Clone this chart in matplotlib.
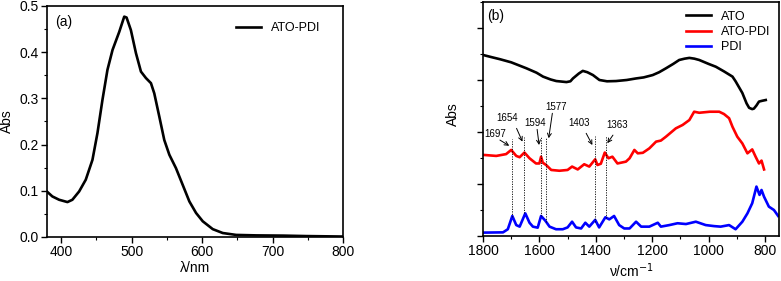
import matplotlib
matplotlib.use("Agg")
import matplotlib.pyplot as plt
from matplotlib.ticker import MultipleLocator

plt.rcParams['font.family'] = ['Liberation Sans', 'DejaVu Sans']

# ---- Panel (a): UV-vis of ATO-PDI ----
uv_wl = [378.2, 387.6, 397.2, 409, 416, 425.6, 435, 444.5, 451.6, 458.7, 465.8,
         473, 482.5, 489.6, 492.9, 499, 506.2, 513.3, 520.4, 527.5, 532.2,
         539.3, 546.4, 553.6, 563, 572.5, 582, 591.5, 601, 615.2, 629.4, 648.4,
         676.8, 715, 748, 800]
uv_abs = [0.1007, 0.0878, 0.0806, 0.0756, 0.0806, 0.0986, 0.124, 0.167, 0.225,
          0.297, 0.362, 0.405, 0.444, 0.477, 0.475, 0.448, 0.398, 0.358, 0.344,
          0.333, 0.311, 0.261, 0.21, 0.178, 0.149, 0.113, 0.077, 0.052, 0.034,
          0.017, 0.0086, 0.0045, 0.0035, 0.003, 0.002, 0.001]

# ---- Panel (b): IR spectra (arbitrary offset units) ----
ato_wn = [1799, 1770, 1740, 1700, 1646, 1610, 1587, 1560, 1540, 1504, 1490, 1481,
          1460, 1446, 1430, 1410, 1387, 1360, 1328, 1290, 1257, 1230, 1198,
          1175, 1151, 1125, 1104, 1085, 1068, 1050, 1033, 1000, 974, 945, 915,
          904, 880, 865, 856, 845, 839, 830, 821, 810, 797]
ato_abs = [6.96, 6.88, 6.8, 6.68, 6.45, 6.28, 6.13, 6.02, 5.96, 5.92, 5.95, 6.06,
           6.25, 6.35, 6.3, 6.19, 6.0, 5.95, 5.96, 6.0, 6.06, 6.1, 6.19, 6.3,
           6.45, 6.62, 6.77, 6.82, 6.85, 6.82, 6.77, 6.62, 6.51, 6.33, 6.13, 5.95,
           5.5, 5.1, 4.93, 4.88, 4.9, 5.02, 5.17, 5.2, 5.23]

atopdi_wn = [1800, 1753, 1718, 1700, 1682, 1670, 1653, 1635, 1612, 1600, 1594,
             1588, 1576, 1558, 1529, 1500, 1484, 1464, 1441, 1423, 1402, 1394,
             1382, 1368, 1355, 1341, 1323, 1293, 1280, 1263, 1251, 1233, 1210,
             1186, 1169, 1151, 1116, 1092, 1068, 1051, 1033, 995, 962, 945, 927,
             915, 898, 880, 862, 845, 833, 821, 812, 803]
atopdi_abs = [3.12, 3.08, 3.15, 3.31, 3.08, 3.03, 3.21, 2.99, 2.79, 2.79, 3.05,
              2.82, 2.73, 2.54, 2.51, 2.54, 2.67, 2.56, 2.76, 2.67, 2.95, 2.73,
              2.78, 3.21, 2.99, 3.05, 2.79, 2.86, 2.99, 3.31, 3.18, 3.2, 3.37,
              3.63, 3.67, 3.82, 4.14, 4.27, 4.46, 4.78, 4.74, 4.78, 4.78, 4.69,
              4.53, 4.2, 3.82, 3.56, 3.18, 3.33, 3.05, 2.79, 2.9, 2.56]

pdi_wn = [1800, 1729, 1712, 1696, 1682, 1670, 1650, 1635, 1623, 1606, 1594, 1579,
          1564, 1541, 1517, 1500, 1484, 1470, 1452, 1437, 1423, 1402, 1388,
          1366, 1352, 1335, 1317, 1299, 1280, 1257, 1239, 1210, 1180, 1169,
          1139, 1110, 1080, 1045, 1010, 980, 957, 927, 904, 880, 862, 845, 830,
          819, 812, 803, 786, 768, 753]
pdi_abs = [0.13, 0.14, 0.26, 0.77, 0.42, 0.36, 0.87, 0.51, 0.36, 0.32, 0.77, 0.59,
           0.36, 0.26, 0.26, 0.33, 0.55, 0.33, 0.29, 0.51, 0.36, 0.62, 0.33,
           0.72, 0.64, 0.77, 0.42, 0.29, 0.29, 0.55, 0.36, 0.36, 0.51, 0.36,
           0.42, 0.49, 0.46, 0.55, 0.42, 0.38, 0.36, 0.42, 0.26, 0.55, 0.87,
           1.26, 1.9, 1.58, 1.77, 1.51, 1.13, 1.0, 0.77]

peak_labels = ['1697', '1654', '1594', '1577', '1403', '1363']
peak_pos = [1697, 1654, 1594, 1577, 1403, 1363]
peak_line_top = [3.73, 3.8, 3.83, 3.8, 3.83, 3.83]
peak_line_bottom = [0.73, 0.88, 0.78, 0.55, 0.55, 0.7]
label_xy = [(1757, 3.92), (1716, 4.53), (1616, 4.33), (1542, 4.97), (1460, 4.33), (1325, 4.27)]
arrow_tail = [(1740, 3.69), (1681, 4.14), (1608, 4.1), (1554, 4.72), (1434, 3.95), (1339, 3.88)]
arrow_head = [(1707, 3.47), (1660, 3.63), (1601, 3.5), (1567, 3.76), (1412, 3.5), (1359, 3.57)]

W, H = 781, 281
fig = plt.figure(figsize=(W / 100, H / 100), dpi=100)

def box(l, r, t, b):
    return [l / W, 1 - b / H, (r - l) / W, (b - t) / H]

ax1 = fig.add_axes(box(47, 343, 6, 237))
ax2 = fig.add_axes(box(483, 779, 2, 236))

for ax in (ax1, ax2):
    for s in ax.spines.values():
        s.set_linewidth(1.2)
    ax.tick_params(which='major', direction='out', length=4, width=1.0, labelsize=10, pad=2)
    ax.tick_params(which='minor', direction='out', length=2, width=0.8)

# Panel (a)
ax1.plot(uv_wl, uv_abs, color='black', lw=1.9, label='ATO-PDI')
ax1.set_xlim(380, 800)
ax1.set_ylim(0, 0.5)
ax1.xaxis.set_major_locator(MultipleLocator(100))
ax1.xaxis.set_minor_locator(MultipleLocator(50))
ax1.yaxis.set_major_locator(MultipleLocator(0.1))
ax1.yaxis.set_minor_locator(MultipleLocator(0.05))
ax1.set_xlabel('λ/nm', fontsize=10, labelpad=1)
ax1.set_ylabel('Abs', fontsize=10)
ax1.yaxis.set_label_coords(-0.112, 0.5)
ax1.text(0.027, 0.93, '(a)', transform=ax1.transAxes, fontsize=10, va='center', ha='left')
ax1.legend(loc='upper right', frameon=False, fontsize=9, handlelength=2.0,
           bbox_to_anchor=(0.965, 0.985), borderaxespad=0.6)

# Panel (b)
ax2.plot(ato_wn, ato_abs, color='black', lw=1.9, label='ATO')
ax2.plot(atopdi_wn, atopdi_abs, color='#ff0000', lw=1.9, label='ATO-PDI')
ax2.plot(pdi_wn, pdi_abs, color='#0000ff', lw=1.9, label='PDI')
ax2.set_xlim(1800, 750)
ax2.set_ylim(0, 9)
ax2.xaxis.set_major_locator(MultipleLocator(200))
ax2.xaxis.set_minor_locator(MultipleLocator(100))
ax2.yaxis.set_major_locator(MultipleLocator(2))
ax2.yaxis.set_minor_locator(MultipleLocator(1))
ax2.set_yticklabels([])
ax2.set_xlabel('ν/cm$^{-1}$', fontsize=10, labelpad=2)
ax2.set_ylabel('Abs', fontsize=10)
ax2.yaxis.set_label_coords(-0.078, 0.52)
ax2.text(0.013, 0.94, '(b)', transform=ax2.transAxes, fontsize=10, va='center', ha='left')
ax2.legend(loc='upper right', frameon=False, fontsize=9, handlelength=2.0,
           labelspacing=0.25, borderaxespad=0.3)

for p, top, bot in zip(peak_pos, peak_line_top, peak_line_bottom):
    ax2.plot([p, p], [bot, top], color='black', lw=0.6, ls=(0, (1.5, 1.5)))
for lab, xy, tail, head in zip(peak_labels, label_xy, arrow_tail, arrow_head):
    ax2.text(xy[0], xy[1], lab, fontsize=7, ha='center', va='center')
    ax2.annotate('', xy=head, xytext=tail,
                 arrowprops=dict(arrowstyle='->', lw=0.7, color='black',
                                 shrinkA=0, shrinkB=0, mutation_scale=7))

fig.savefig('out.png', dpi=100)
